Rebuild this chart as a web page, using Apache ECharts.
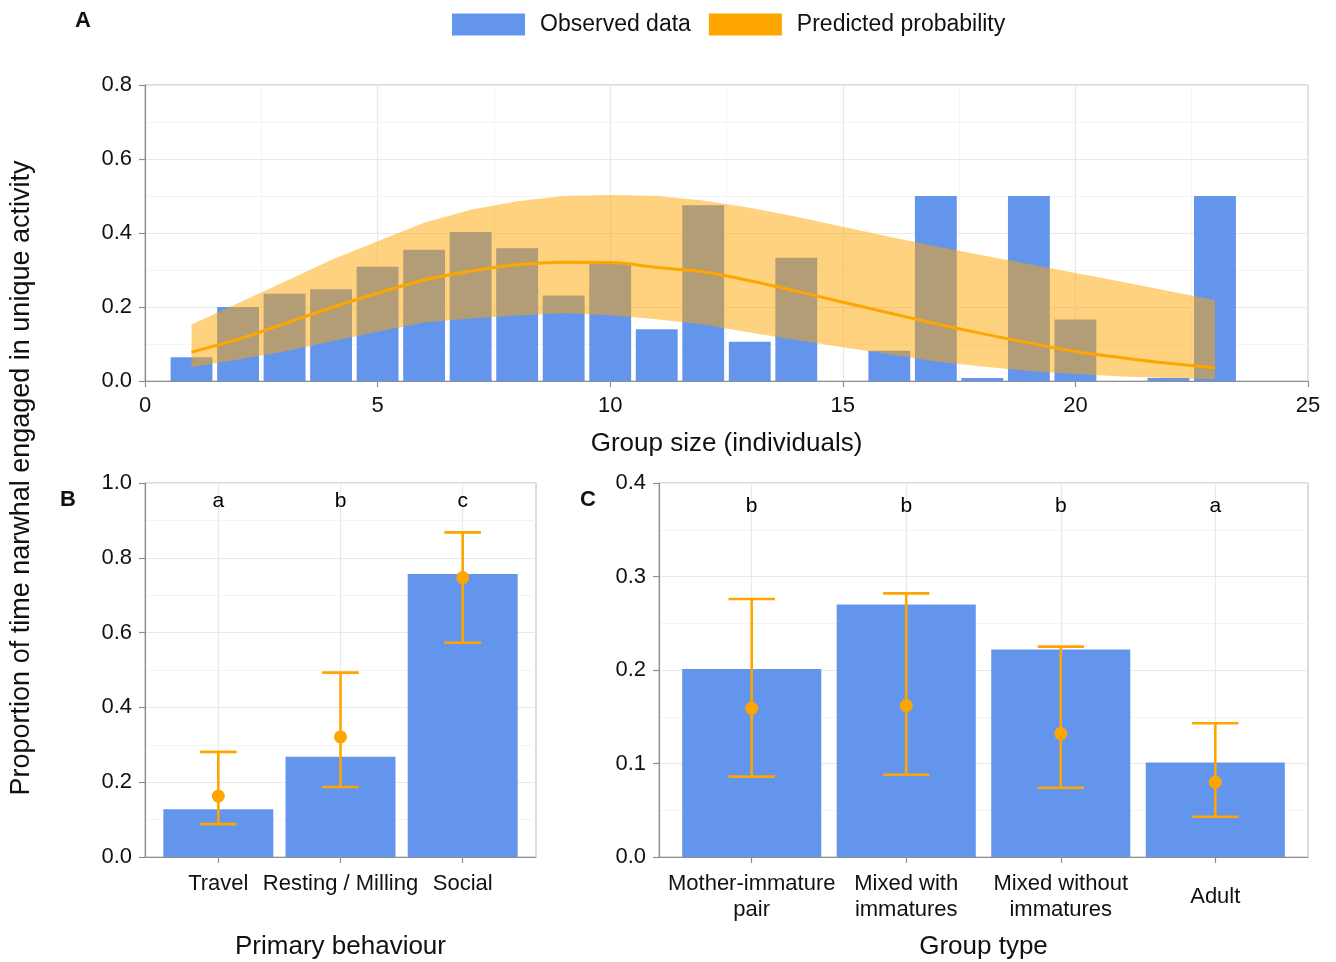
<!DOCTYPE html>
<html>
<head>
<meta charset="utf-8">
<script src="https://cdn.jsdelivr.net/npm/echarts@6/dist/echarts.min.js"></script>
<style>html,body{margin:0;padding:0;background:#fff;}#chart{width:1336px;height:962px;}</style>
</head>
<body>
<div id="chart"></div>
<script>
// ---------- Panel A: group size ----------
const groupSize = [1,2,3,4,5,6,7,8,9,10,11,12,13,14,15,16,17,18,19,20,21,22,23];
const observedA = [0.064,0.200,0.236,0.248,0.309,0.355,0.403,0.359,0.231,0.318,0.140,0.475,0.106,0.333,0,0.082,0.500,0.008,0.500,0.166,0,0.008,0.500];
const predMeanA = [0.078,0.113,0.155,0.198,0.237,0.273,0.297,0.314,0.321,0.320,0.307,0.295,0.271,0.243,0.213,0.184,0.155,0.128,0.103,0.080,0.063,0.048,0.036];
const predLowA  = [0.037,0.058,0.080,0.107,0.133,0.158,0.169,0.177,0.183,0.178,0.167,0.153,0.131,0.111,0.091,0.072,0.053,0.039,0.027,0.019,0.012,0.008,0.005];
const predUpA   = [0.153,0.210,0.268,0.327,0.378,0.428,0.463,0.486,0.500,0.503,0.500,0.488,0.468,0.444,0.417,0.390,0.364,0.340,0.316,0.292,0.268,0.243,0.219];

// ---------- Panel B: primary behaviour ----------
const behaviours = ['Travel','Resting / Milling','Social'];
const observedB = [0.128,0.268,0.757];
const predB     = [0.163,0.321,0.747];
const lowB      = [0.088,0.187,0.573];
const upB       = [0.281,0.493,0.868];
const lettersB  = ['a','b','c'];

// ---------- Panel C: group type ----------
const groupTypes = ['Mother-immature\npair','Mixed with\nimmatures','Mixed without\nimmatures','Adult'];
const observedC = [0.201,0.270,0.222,0.101];
const predC     = [0.159,0.162,0.132,0.080];
const lowC      = [0.086,0.088,0.074,0.043];
const upC       = [0.276,0.282,0.225,0.143];
const lettersC  = ['b','b','b','a'];

const FONT = 'Liberation Sans, Arial, Helvetica, sans-serif';
const TXT = '#111111';
const BLUE = '#6495ED';
const ORANGE = '#FFA500';
const AXIS = '#8f8f8f';

function barRender(width) {
  return function (params, api) {
    const x = api.value(0), y = api.value(1);
    const a = api.coord([x - width / 2, y]);
    const b = api.coord([x + width / 2, 0]);
    return { type: 'rect', shape: { x: a[0], y: a[1], width: b[0] - a[0], height: b[1] - a[1] }, style: { fill: BLUE } };
  };
}
function errRender(params, api) {
  const x = api.value(0), lo = api.value(1), hi = api.value(2), h = 0.15;
  const t = api.coord([x, hi]), b = api.coord([x, lo]);
  const l1 = api.coord([x - h, hi]), r1 = api.coord([x + h, hi]);
  const l2 = api.coord([x - h, lo]), r2 = api.coord([x + h, lo]);
  const st = { stroke: ORANGE, lineWidth: 2.6 };
  return { type: 'group', children: [
    { type: 'line', shape: { x1: t[0], y1: t[1], x2: b[0], y2: b[1] }, style: st },
    { type: 'line', shape: { x1: l1[0], y1: l1[1], x2: r1[0], y2: r1[1] }, style: st },
    { type: 'line', shape: { x1: l2[0], y1: l2[1], x2: r2[0], y2: r2[1] }, style: st }
  ]};
}
function bandRender(params, api) {
  if (params.dataIndex !== 0) return null;
  const pts = [];
  for (let i = 0; i < groupSize.length; i++) pts.push(api.coord([groupSize[i], predUpA[i]]));
  for (let i = groupSize.length - 1; i >= 0; i--) pts.push(api.coord([groupSize[i], predLowA[i]]));
  return { type: 'polygon', shape: { points: pts }, style: { fill: 'rgba(255,165,0,0.5)' } };
}
function letterRender(letters) {
  return function (params, api) {
    const p = api.coord([api.value(0), api.value(1)]);
    return { type: 'text', x: p[0], y: p[1],
      style: { text: letters[params.dataIndex], fontSize: 21, fill: '#000', fontFamily: FONT, align: 'center', verticalAlign: 'middle' } };
  };
}

function yAxisCfg(gi, max, interval) {
  return {
    type: 'value', gridIndex: gi, min: 0, max: max, interval: interval,
    axisLine: { show: true, lineStyle: { color: AXIS, width: 1.2 } },
    axisTick: { show: true, length: 6, lineStyle: { color: AXIS, width: 1.2 } },
    axisLabel: { fontSize: 22, color: TXT, fontFamily: FONT, margin: 13, formatter: v => v.toFixed(1) },
    splitLine: { show: true, lineStyle: { color: '#e9e9e9', width: 1.2 } },
    minorTick: { show: false, splitNumber: 2 },
    minorSplitLine: { show: true, lineStyle: { color: '#f4f4f4', width: 1 } }
  };
}
function xCatAxisCfg(gi, n, names, name, margin) {
  const vals = names.map((_, i) => i + 1);
  return {
    type: 'value', gridIndex: gi, min: 0.4, max: n + 0.6,
    axisLine: { show: true, onZero: false, lineStyle: { color: AXIS, width: 1.2 } },
    axisTick: { show: true, length: 6, customValues: vals, lineStyle: { color: AXIS, width: 1.2 } },
    axisLabel: { customValues: vals, fontSize: 22, color: TXT, fontFamily: FONT, margin: margin,
      verticalAlign: 'middle', lineHeight: 26, align: 'center',
      formatter: v => names[Math.round(v) - 1] },
    splitLine: { show: true, lineStyle: { color: '#e9e9e9', width: 1.2 } },
    name: name, nameLocation: 'middle', nameGap: 77,
    nameTextStyle: { fontSize: 26, color: TXT, fontFamily: FONT }
  };
}

const option = {
  animation: false,
  backgroundColor: '#ffffff',
  textStyle: { fontFamily: FONT },
  legend: {
    left: 447, top: 8, itemWidth: 73, itemHeight: 22, itemGap: 18, icon: 'rect',
    textStyle: { fontSize: 23, color: TXT, fontFamily: FONT, padding: [0, 0, 0, 10] },
    data: [
      { name: 'Observed data', itemStyle: { color: BLUE } },
      { name: 'Predicted probability', itemStyle: { color: ORANGE } }
    ]
  },
  grid: [
    { left: 145, top: 85, width: 1163, height: 296, show: true, borderColor: '#b8b8b8', borderWidth: 1 },
    { left: 145, top: 483, width: 391, height: 374, show: true, borderColor: '#b8b8b8', borderWidth: 1 },
    { left: 659, top: 483, width: 649, height: 374, show: true, borderColor: '#b8b8b8', borderWidth: 1 }
  ],
  xAxis: [
    {
      type: 'value', gridIndex: 0, min: 0, max: 25, interval: 5,
      axisLine: { show: true, onZero: false, lineStyle: { color: AXIS, width: 1.2 } },
      axisTick: { show: true, length: 6, lineStyle: { color: AXIS, width: 1.2 } },
      axisLabel: { fontSize: 22, color: TXT, fontFamily: FONT, margin: 14 },
      splitLine: { show: true, lineStyle: { color: '#e9e9e9', width: 1.2 } },
      minorTick: { show: false, splitNumber: 2 },
      minorSplitLine: { show: true, lineStyle: { color: '#f4f4f4', width: 1 } },
      name: 'Group size (individuals)', nameLocation: 'middle', nameGap: 50,
      nameTextStyle: { fontSize: 26, color: TXT, fontFamily: FONT }
    },
    xCatAxisCfg(1, 3, behaviours, 'Primary behaviour', 27),
    xCatAxisCfg(2, 4, groupTypes, 'Group type', 40)
  ],
  yAxis: [
    yAxisCfg(0, 0.8, 0.2),
    yAxisCfg(1, 1.0, 0.2),
    yAxisCfg(2, 0.4, 0.1)
  ],
  graphic: [
    { type: 'text', left: 75, top: 10, style: { text: 'A', fontSize: 22, fontWeight: 'bold', fill: TXT, fontFamily: FONT } },
    { type: 'text', left: 60, top: 489, style: { text: 'B', fontSize: 22, fontWeight: 'bold', fill: TXT, fontFamily: FONT } },
    { type: 'text', left: 580, top: 489, style: { text: 'C', fontSize: 22, fontWeight: 'bold', fill: TXT, fontFamily: FONT } },
    { type: 'text', x: 22, y: 478, rotation: Math.PI / 2,
      style: { text: 'Proportion of time narwhal engaged in unique activity', fontSize: 27, fill: TXT, fontFamily: FONT,
               align: 'center', verticalAlign: 'middle' } }
  ],
  series: [
    // Panel A
    { name: 'Observed data', type: 'custom', xAxisIndex: 0, yAxisIndex: 0, z: 2,
      renderItem: barRender(0.9), itemStyle: { color: BLUE },
      data: groupSize.map((x, i) => [x, observedA[i]]) },
    { name: 'Predicted probability', type: 'custom', xAxisIndex: 0, yAxisIndex: 0, z: 3, clip: false,
      renderItem: bandRender, itemStyle: { color: ORANGE },
      data: groupSize.map((x, i) => [x, predLowA[i], predUpA[i]]) },
    { name: 'Predicted probability', type: 'line', xAxisIndex: 0, yAxisIndex: 0, z: 4,
      smooth: 0.4, symbol: 'none', lineStyle: { color: ORANGE, width: 3 }, itemStyle: { color: ORANGE },
      data: groupSize.map((x, i) => [x, predMeanA[i]]) },
    // Panel B
    { name: 'Observed data', type: 'custom', xAxisIndex: 1, yAxisIndex: 1, z: 2,
      renderItem: barRender(0.9), itemStyle: { color: BLUE },
      data: observedB.map((v, i) => [i + 1, v]) },
    { name: 'Predicted probability', type: 'custom', xAxisIndex: 1, yAxisIndex: 1, z: 3,
      renderItem: errRender, itemStyle: { color: ORANGE },
      data: lowB.map((v, i) => [i + 1, v, upB[i]]) },
    { name: 'Predicted probability', type: 'scatter', xAxisIndex: 1, yAxisIndex: 1, z: 4,
      symbolSize: 13, itemStyle: { color: ORANGE, opacity: 1 },
      data: predB.map((v, i) => [i + 1, v]) },
    { type: 'custom', xAxisIndex: 1, yAxisIndex: 1, z: 5, silent: true,
      renderItem: letterRender(lettersB),
      data: lettersB.map((_, i) => [i + 1, 0.95]) },
    // Panel C
    { name: 'Observed data', type: 'custom', xAxisIndex: 2, yAxisIndex: 2, z: 2,
      renderItem: barRender(0.9), itemStyle: { color: BLUE },
      data: observedC.map((v, i) => [i + 1, v]) },
    { name: 'Predicted probability', type: 'custom', xAxisIndex: 2, yAxisIndex: 2, z: 3,
      renderItem: errRender, itemStyle: { color: ORANGE },
      data: lowC.map((v, i) => [i + 1, v, upC[i]]) },
    { name: 'Predicted probability', type: 'scatter', xAxisIndex: 2, yAxisIndex: 2, z: 4,
      symbolSize: 13, itemStyle: { color: ORANGE, opacity: 1 },
      data: predC.map((v, i) => [i + 1, v]) },
    { type: 'custom', xAxisIndex: 2, yAxisIndex: 2, z: 5, silent: true,
      renderItem: letterRender(lettersC),
      data: lettersC.map((_, i) => [i + 1, 0.375]) }
  ]
};

const chart = echarts.init(document.getElementById('chart'), null, { renderer: 'canvas' });
chart.setOption(option);
</script>
</body>
</html>
